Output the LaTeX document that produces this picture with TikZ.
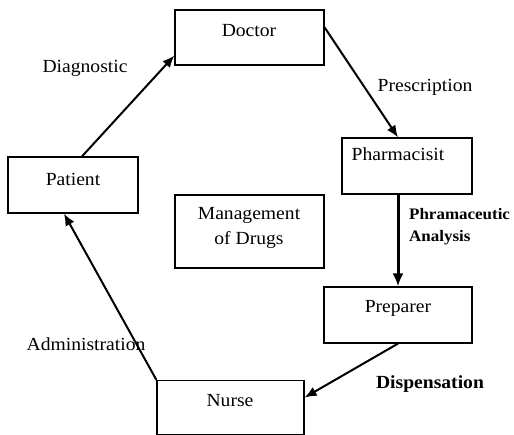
\documentclass[tikz,border=0pt]{standalone}
\usepackage{fontspec}
\setmainfont[FakeStretch=1.06]{Liberation Serif}
\usetikzlibrary{arrows.meta,calc}
\tikzset{
  box/.style={draw=black,line width=1.2pt,rectangle,inner sep=0pt,fill=white},
  boxtext/.style={font=\fontsize{18.5}{20}\selectfont,inner sep=0pt,anchor=center},
  lbl/.style={font=\fontsize{18.5}{20}\selectfont,inner sep=0pt,anchor=center},
  blbl/.style={font=\fontsize{16}{22}\selectfont\bfseries,inner sep=0pt},
  arr/.style={line width=2pt,-{Latex[length=12pt,width=10pt]}},
  thickarr/.style={line width=3pt,-{Latex[length=13pt,width=11pt]}}
}
\begin{document}
\begin{tikzpicture}[x=1pt,y=-1pt]
\useasboundingbox (0,0) rectangle (514,435);
% boxes
\node[box,minimum width=149pt,minimum height=55pt] (doctor) at (249.5,37.5) {};
\node[box,minimum width=130pt,minimum height=56pt] (patient) at (73,185) {};
\node[box,minimum width=130pt,minimum height=56pt] (pharm) at (407,166) {};
\node[box,minimum width=149pt,minimum height=73pt] (mgmt) at (249.5,231.5) {};
\node[box,minimum width=148pt,minimum height=56pt] (prep) at (398,315) {};
\node[box,minimum width=147pt,minimum height=54pt] (nurse) at (230.5,407.5) {};
% box texts
\node[boxtext] (doctorT) at (249,31) {Doctor};
\node[boxtext] (patientT) at (73,179) {Patient};
\node[boxtext] (pharmT) at (398,154) {Pharmacisit};
\node[boxtext,align=center,font=\fontsize{18.5}{25}\selectfont] (mgmtT) at (249,228) {Management\\of Drugs};
\node[boxtext] (prepT) at (398,308) {Preparer};
\node[boxtext] (nurseT) at (230,401) {Nurse};
% labels
\node[lbl] (diag) at (85,68) {Diagnostic};
\node[lbl] (presc) at (425,87) {Prescription};
\node[blbl,align=left,anchor=west] (anal) at (409,227) {Phramaceutic\\Analysis};
\node[lbl] (admin) at (86,344) {Administration};
\node[lbl,font=\fontsize{18.5}{20}\selectfont\bfseries] (disp) at (430,384) {Dispensation};
% connectors
\draw[arr] ($(patient.north)+(9,0)$) -- ($(doctor.south west)+(0,-10)$);
\draw[arr] ($(doctor.north east)+(0,18)$) -- ($(pharm.north)+(-9,0)$);
\draw[thickarr] ($(pharm.south)+(-9,0)$) -- (prep.north);
\draw[arr] (prep.south) -- ($(nurse.east)+(0,-10)$);
\draw[arr] (nurse.north west) -- ($(patient.south)+(-9,0)$);
\end{tikzpicture}
\end{document}
